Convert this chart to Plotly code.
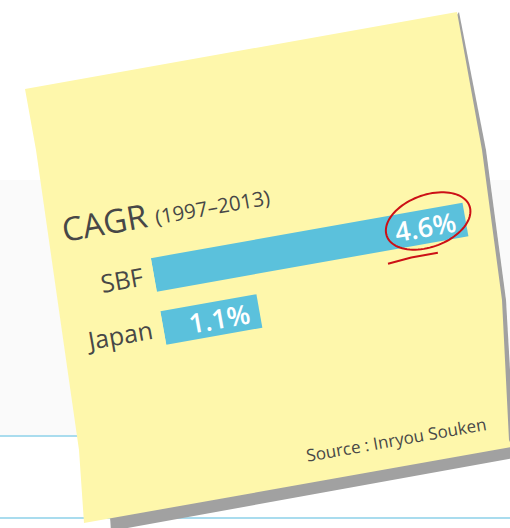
import math
import plotly.graph_objects as go

# ---------------- data ----------------
categories = ["SBF", "Japan"]
cagr_values = [4.6, 1.1]
chart_title = "CAGR"
chart_period = "(1997\u20132013)"
source_note = "Source : Inryou Souken"

# ---------------- style / geometry ----------------
W, H = 510, 528
TILT = -10.1                 # the sticky note is tilted (svg rotate, degrees)
PIVOT = (255, 264)

NOTE_YELLOW = "#fef7ab"
SHADOW = "#a1a1a1"
BAR_BLUE = "#5bc1dc"
INK = "#474747"
RULE_BLUE = "#a9dcee"
FONT = "Open Sans"
BAR_BASE = -0.46             # bars start a little left of zero (as drawn in the original)
PX_PER_UNIT = 62.55


def fx(x):
    return x / W


def fy(y):
    return 1 - y / H


def poly(points, close=True):
    d = "M " + " L ".join(f"{fx(x):.5f},{fy(y):.5f}" for x, y in points)
    return d + (" Z" if close else "")


def ellipse_path(cx, cy, rx, ry, tilt_deg, n=90):
    t = math.radians(tilt_deg)
    pts = []
    for i in range(n):
        a = 2 * math.pi * i / n
        ex, ey = rx * math.cos(a), ry * math.sin(a)
        pts.append((cx + ex * math.cos(t) - ey * math.sin(t),
                    cy + ex * math.sin(t) + ey * math.cos(t)))
    return poly(pts)


fig = go.Figure()

fig.add_trace(go.Bar(
    y=categories,
    x=[v - BAR_BASE for v in cagr_values],
    base=BAR_BASE,
    orientation="h",
    marker=dict(color=BAR_BLUE, line=dict(width=0)),
    text=[f"{v:.1f}%\u00a0" for v in cagr_values],
    textposition="inside",
    insidetextanchor="end",
    textfont=dict(family=FONT, size=27, color="white", weight=600),
    constraintext="none",
    hoverinfo="skip",
))

x0_px, x1_px = 153.5, 480
fig.update_layout(
    width=W, height=H,
    margin=dict(l=0, r=0, t=0, b=0),
    paper_bgcolor="white",
    plot_bgcolor="rgba(0,0,0,0)",
    showlegend=False,
    bargap=0.37,
    xaxis=dict(domain=[fx(x0_px), fx(x1_px)],
               range=[BAR_BASE, BAR_BASE + (x1_px - x0_px) / PX_PER_UNIT],
               visible=False),
    yaxis=dict(domain=[fy(338), fy(230)], range=[-0.5, 1.5],
               categoryorder="array", categoryarray=["Japan", "SBF"],
               showgrid=False, zeroline=False, showline=False, ticks="",
               tickfont=dict(family=FONT, size=25, color=INK),
               ticklabelstandoff=10),
)

# ---- page background and the note (not tilted) ----
below = dict(xref="paper", yref="paper", layer="below")
fig.add_shape(type="rect", x0=0, x1=1, y0=fy(436), y1=fy(180),
              fillcolor="#fafafa", line=dict(width=0), **below)
for yl in (436, 518):
    fig.add_shape(type="line", x0=0, x1=1, y0=fy(yl), y1=fy(yl),
                  line=dict(color=RULE_BLUE, width=2), **below)

shadow_pts = [(459, 12), (486, 150), (506, 300), (514, 440), (514, 458),
              (111, 531), (110, 517)]
fig.add_shape(type="path", path=poly(shadow_pts), fillcolor=SHADOW,
              line=dict(width=0), **below)
note_pts = [(25, 89), (457, 12), (482, 150), (502, 300), (509, 440),
            (512, 447), (84, 523), (79, 450), (36, 150)]
fig.add_shape(type="path", path=poly(note_pts), fillcolor=NOTE_YELLOW,
              line=dict(width=0), **below)

# ---- hand drawn red circle (tilted with the note) ----
above = dict(xref="paper", yref="paper", layer="above")
fig.add_shape(type="path", path=ellipse_path(433, 252, 44, 26, -10),
              line=dict(color="#cc1016", width=2), **above)
fig.add_shape(type="path", path=poly([(386, 287), (410, 285), (437, 285)], close=False),
              line=dict(color="#cc1016", width=2), **above)

# ---- texts (tilted with the note) ----
fig.add_annotation(x=fx(114), y=fy(196), text=chart_title, showarrow=False,
                   xref="paper", yref="paper", xanchor="center", yanchor="middle",
                   font=dict(family=FONT, size=33, color=INK))
fig.add_annotation(x=fx(163), y=fy(200), text=chart_period, showarrow=False,
                   xref="paper", yref="paper", xanchor="left", yanchor="middle",
                   font=dict(family=FONT, size=20.5, color=INK))
fig.add_annotation(x=fx(457), y=fy(461), text=source_note, showarrow=False,
                   xref="paper", yref="paper", xanchor="right", yanchor="middle",
                   font=dict(family=FONT, size=17, color=INK))

ROTATE_JS = f"""
document.body.style.margin = '0';
var gd = document.getElementById('{{plot_id}}');
function tiltNote() {{
  ['.cartesianlayer', '.layer-above', '.infolayer'].forEach(function (s) {{
    gd.querySelectorAll(s).forEach(function (el) {{
      el.setAttribute('transform', 'rotate({TILT} {PIVOT[0]} {PIVOT[1]})');
    }});
  }});
}}
tiltNote();
if (gd.on) {{ gd.on('plotly_afterplot', tiltNote); }}
"""

fig.write_html("out.html", post_script=ROTATE_JS,
               config={"displayModeBar": False, "staticPlot": True})
